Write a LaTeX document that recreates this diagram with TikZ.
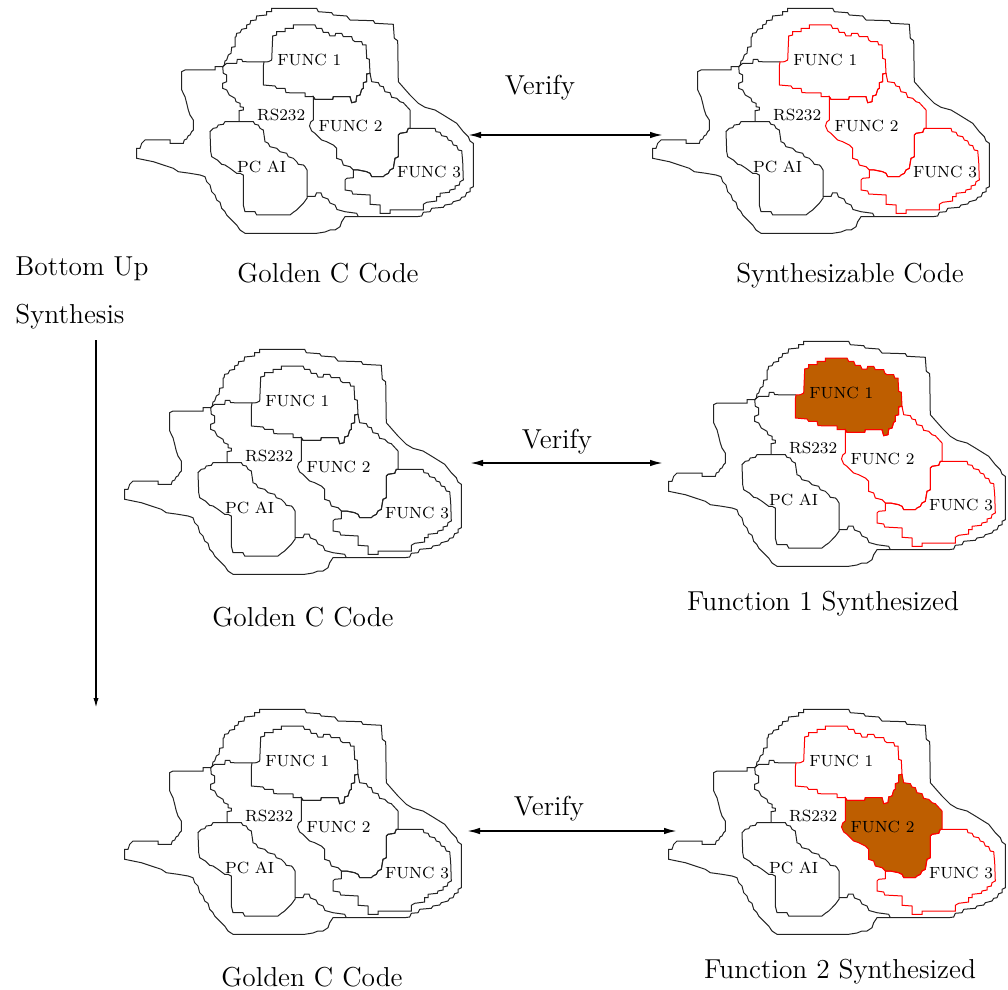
\documentclass[tikz,border=0pt]{standalone}
\usepackage{fontspec}
\usetikzlibrary{arrows.meta}
\definecolor{fb}{RGB}{190,94,0}
\definecolor{ln}{RGB}{35,35,35}
\tikzset{
  blk/.style={draw=ln,line width=0.5pt},
  redl/.style={draw=red,line width=0.5pt},
  redf/.style={draw=red,line width=0.5pt,fill=fb},
  f1/.style={blk}, f2/.style={blk}, f3/.style={blk},
  lab/.style={font=\fontsize{8.1}{9}\selectfont,inner sep=0pt,anchor=west},
  captxt/.style={font=\fontsize{13.7}{16}\selectfont,inner sep=0pt,anchor=base},
  captw/.style={font=\fontsize{13.7}{16}\selectfont,inner sep=0pt,anchor=base west},
  arr/.style={line width=0.9pt,{Latex[length=6.5pt,width=3.3pt]}-{Latex[length=6.5pt,width=3.3pt]}},
  darr/.style={line width=0.8pt,-{Latex[length=5pt,width=2.6pt]}},
  mapblob/.pic={
    % outer boundary
    \path[blk] plot coordinates {(271.7,8.3) (316.7,8.3) (318.3,11.7) (331.7,12.7) (333.3,15) (346.7,16) (350,20) (373.3,20.7) (375,23.3) (393.3,24.3) (394.3,38.3) (397.7,40.7) (398.3,81.7) (410,95) (418.3,103.3) (425,107.3) (435,110) (443.3,115) (456.7,123.3) (463.3,131.7) (468.3,136.7) (470,141) (473.3,143.3) (473.3,186.7) (470,188.3) (470,191.7) (466.7,192.7) (465,196.7) (461.7,197.3) (460,200) (453.3,201.7) (451.7,204) (445,205) (443.3,207.3) (431.7,208.3) (430,211.7) (423.3,212.3) (421.7,216) (416.7,216.7) (345,216.7) (341.7,221.7) (340,226.7) (335,230) (330,230) (325,232) (316.7,233.3) (245,233.3) (240,230) (236.7,225) (233.3,221.7) (230,218.3) (226.7,215) (225,211.7) (221.7,208.3) (220,202.3) (216.7,200) (215,195) (211.7,191.7) (210,185) (206.7,181.7) (205,176.7) (200,175) (190,173.3) (178.3,171.7) (173.3,168.3) (163.3,165) (153.3,161.7) (145,160) (136.7,158.3) (136.7,148.3) (140,148.3) (141.7,143.3) (145,140) (170,140) (170,143.3) (183.3,143.3) (184.3,140) (186.7,139) (188.3,135.7) (190,135) (191.7,131.7) (193.3,130) (193.3,120) (190,115) (188.3,110) (186.7,103.3) (185,96.7) (181.7,90) (181.7,71.7) (185,70) (215,70) (215,66.7) (222.7,66.7) (224.3,65) (225,61) (226.7,60) (228.3,55) (231,53.3) (231.7,47.3) (235,46.7) (235,37.3) (236,36.7) (236.7,33.3) (240,32.7) (241.7,29.3) (246.7,28.3) (246.7,25) (250,24) (250.7,20.7) (256,20) (256.7,16) (266.7,15) (266.7,11.7) (271.7,11.7)} -- cycle;
    % RS232 left boundary
    \path[blk] plot coordinates {(222.7,66.7) (223.3,73.3) (226.7,75) (226.7,81.7) (222.7,83.3) (222.7,88.3) (226.7,90) (229.3,95) (235,98.3) (236,101.7) (240,103.3) (240,106.7) (243.3,107.3) (243.3,110) (239,110.7) (239,121.7)};
    % RS232 top boundary
    \path[blk] plot coordinates {(222.7,66.7) (226.7,63.3) (236.7,63.3) (237.3,59.3) (241.7,59.3) (242.7,61.7) (264,62)};
    % PC AI
    \path[blk] plot coordinates {(210,131.7) (211.7,130) (213.3,128.3) (216.7,127.7) (218.3,125) (223.3,124.3) (225,121.7) (253.3,121.7) (255,124.3) (258.3,125) (260,128.3) (263.3,130) (265,141.7) (268.3,143.3) (270,146.7) (276.7,148.3) (280,151.7) (286.7,153.3) (288.3,156.7) (293.3,158.3) (296.7,161.7) (298.3,164.3) (303.3,165) (305,166.7) (307,170) (307,198.3) (303.3,203.3) (300,206.7) (296.7,210) (293.3,212.3) (290,215) (256.7,215) (255,211.7) (245,211.7) (243.3,205) (243.3,175) (240,173.3) (236.7,173.3) (230,168.3) (225,165) (221.7,164.3) (217.3,160) (211.7,156.7) (210.7,151.7)} -- cycle;
    % bottom divider
    \path[blk] plot coordinates {(307,196.5) (315,196.5) (316.5,193) (321,193) (322.5,197) (328,199) (330,203) (335,205) (337,209.5) (345,211.7) (356.7,213.3) (358.3,216.7)};
    % FUNC 1
    \path[f1] plot coordinates {(272.7,36) (276.7,35) (276.7,31.7) (285,31.7) (285,28.3) (293.3,28.3) (293.3,25) (315,25) (316.7,28.3) (321.7,28.3) (323.3,32.3) (328.3,32.3) (330,36) (335,36) (335.7,33.3) (341.7,33.3) (343.3,36.7) (351.7,36.7) (352.7,40) (355,41.7) (361.7,41.7) (362.7,45) (366,45) (366.7,58.3) (369.3,59.3) (370,73.3) (366.7,74) (366.7,81.7) (363.3,82.7) (363.3,88.3) (361.7,89.3) (360,95) (356.7,96) (356,101.7) (351.7,102.7) (350,96.7) (333.3,96.7) (332.7,99.3) (315,99.3) (313.3,96.7) (305,96.7) (305,93) (286,92.7) (285,88.3) (276.7,88.3) (275,86) (263.3,85) (263.3,66) (264,62) (268.3,61.7) (271.7,60)} -- cycle;
    % FUNC 2
    \path[f2] plot coordinates {(313.3,96.7) (315,99.3) (332.7,99.3) (333.3,96.7) (350,96.7) (351.7,102.7) (356,101.7) (356.7,96) (360,95) (361.7,89.3) (363.3,88.3) (363.3,82.7) (366.7,81.7) (366.7,74) (370,73.3) (371.7,81.7) (378.3,82.7) (380,86) (383.3,86.7) (385,91.7) (390,92.7) (391.7,97.3) (396.7,98.3) (400,101.7) (403.3,102.7) (410,110) (410,128.3) (408.3,128.3) (406.7,132.3) (400,133.3) (398.3,135) (398.3,156.7) (395,158.3) (393.3,168.3) (390,170) (388.3,173.3) (385,175) (383.3,176.7) (371.7,176.7) (370,173.3) (366.7,171.7) (358.3,170) (353.3,170) (350,166.7) (343.3,165) (341.7,160) (336.7,158.3) (336.7,148.3) (333.3,145) (326.7,141.7) (321.7,140) (318.3,136.7) (315,133.3) (311.7,131) (309.5,126) (310.7,122) (313.3,120)} -- cycle;
    % FUNC 3
    \path[f3] plot coordinates {(408.3,128.3) (435,128.3) (436,131.7) (440,132.3) (441.7,135.7) (446.7,136.7) (448.3,140) (451.7,141) (453.3,145) (456.7,145.7) (458.3,150) (461.7,150.7) (462.7,161.7) (463.3,180) (460,181.7) (459.3,185) (455,186) (455,189) (450,190) (449.3,192.3) (440,193.3) (440,196.7) (436.7,196.7) (436.7,201) (426.7,202.3) (423.3,204.3) (423.3,210) (390,210) (390,213.3) (380,213.3) (380,205) (370,204.3) (370,195) (352.7,194) (351.7,191) (345,190) (345,180) (346.7,178.3) (353.3,177.7) (353.3,170) (358.3,170) (366.7,171.7) (370,173.3) (371.7,176.7) (383.3,176.7) (385,175) (388.3,173.3) (390,170) (393.3,168.3) (395,158.3) (398.3,156.7) (398.3,135) (400,133.3) (406.7,132.3)} -- cycle;
    % labels
    \node[lab] (-f1) at (277,60) {FUNC 1};
    \node[lab] (-rs) at (256.7,115) {RS232};
    \node[lab] (-f2) at (318.3,126) {FUNC 2};
    \node[lab] (-pc) at (236.7,166.7) {PC AI};
    \node[lab] (-f3) at (396.7,171.7) {FUNC 3};
  }
}
\begin{document}
\begin{tikzpicture}[x=0.5pt,y=-0.5pt]
\useasboundingbox (0,0) rectangle (1008,990);
% maps
\pic (tl) at (0,0) {mapblob};
\pic[f1/.style={redl},f2/.style={redl},f3/.style={redl}] (tr) at (516,0) {mapblob};
\pic (ml) at (-12,341) {mapblob};
\pic[f1/.style={redf},f2/.style={redl},f3/.style={redl}] (mr) at (532,333) {mapblob};
\pic (bl) at (-12,701) {mapblob};
\pic[f1/.style={redl},f2/.style={redf},f3/.style={redl}] (br) at (532,701) {mapblob};
% captions
\node[captxt] (c1) at (328,282.5) {Golden C Code};
\node[captxt] (c2) at (850,282.5) {Synthesizable Code};
\node[captxt] (c3) at (303,626.5) {Golden C Code};
\node[captxt] (c4) at (823,610.5) {Function 1 Synthesized};
\node[captxt] (c5) at (312,986.5) {Golden C Code};
\node[captxt] (c6) at (840,978.5) {Function 2 Synthesized};
\node[captxt] (v1) at (540,95) {Verify};
\node[captxt] (v2) at (557,448) {Verify};
\node[captxt] (v3) at (549,815) {Verify};
\node[captw] (bu) at (15,276) {Bottom Up};
\node[captw] (sy) at (15,323) {Synthesis};
% arrows
\coordinate (a1l) at (468,135); \coordinate (a1r) at (663,135);
\coordinate (a2l) at (470,463); \coordinate (a2r) at (663,463);
\coordinate (a3l) at (467,831); \coordinate (a3r) at (677,831);
\coordinate (dtop) at (96,340); \coordinate (dbot) at (96,708);
\draw[arr] (a1l) -- (a1r);
\draw[arr] (a2l) -- (a2r);
\draw[arr] (a3l) -- (a3r);
\draw[darr] (dtop) -- (dbot);
\end{tikzpicture}
\end{document}
